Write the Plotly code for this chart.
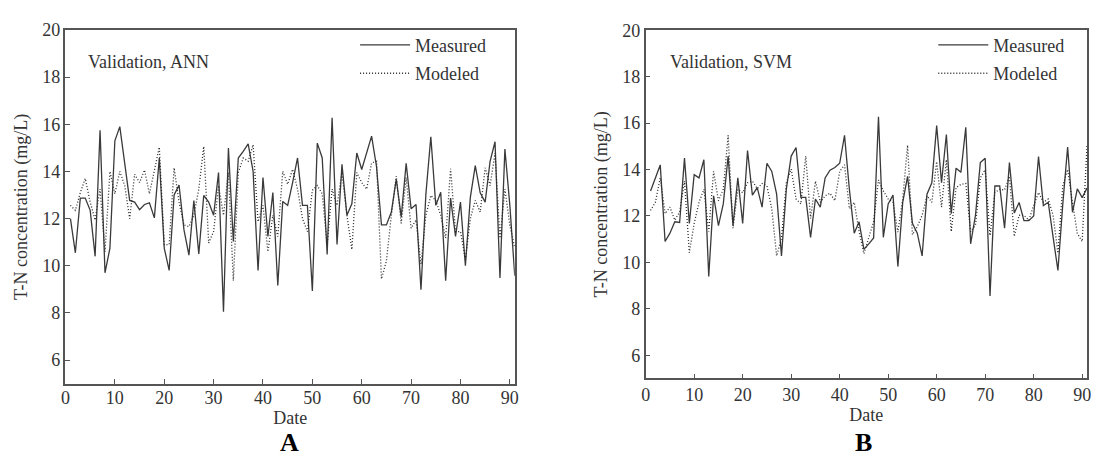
import plotly.graph_objects as go

days = list(range(1, 92))

ann_measured = [12.0, 10.55, 12.87, 12.87, 12.35, 10.4, 15.75, 9.7, 10.75, 15.3,
                15.9, 14.3, 12.77, 12.7, 12.38, 12.6, 12.67, 12.03, 14.57, 10.75,
                9.8, 13.0, 13.42, 11.52, 10.45, 12.77, 10.5, 12.98, 12.7, 12.14,
                13.95, 8.05, 14.99, 11.03, 14.57, 14.85, 15.17, 14.0, 9.8, 13.74,
                11.24, 13.1, 9.16, 12.73, 12.56, 13.53, 14.57, 12.56, 12.56, 8.93,
                15.2, 14.57, 10.48, 16.28, 10.9, 14.3, 12.14, 12.63, 14.78, 14.08,
                14.78, 15.5, 14.2, 11.73, 11.73, 12.28, 13.67, 12.07, 14.34, 12.42,
                12.6, 8.98, 13.05, 15.47, 12.56, 13.12, 9.37, 12.87, 11.24, 12.7,
                10.0, 12.9, 14.25, 13.09, 12.7, 14.43, 15.26, 9.48, 14.95, 12.56,
                9.58]

ann_modeled = [12.56, 12.35, 13.1, 13.7, 12.7, 11.94, 13.25, 10.6, 14.0, 13.05,
               14.0, 13.4, 12.0, 13.88, 13.53, 14.06, 13.05, 14.0, 15.03, 10.9,
               10.9, 14.15, 12.7, 11.73, 11.66, 12.14, 13.25, 15.06, 10.97, 11.45,
               13.4, 12.14, 13.95, 9.37, 13.95, 14.57, 14.43, 15.13, 11.87, 12.56,
               10.6, 12.14, 11.24, 14.0, 13.46, 14.09, 13.25, 12.0, 11.45, 13.2,
               13.4, 13.05, 10.9, 13.25, 12.56, 13.95, 12.14, 10.69, 13.95, 13.53,
               13.25, 14.36, 14.43, 9.44, 10.2, 12.14, 13.8, 11.8, 13.74, 11.59,
               11.94, 10.06, 12.14, 12.98, 12.77, 12.14, 11.17, 14.11, 11.45, 11.45,
               10.27, 12.0, 12.77, 12.28, 14.15, 13.4, 14.78, 11.17, 13.25, 11.73,
               10.75]

svm_measured = [13.08, 13.64, 14.2, 10.9, 11.26, 11.75, 11.72, 14.49, 11.68, 13.78,
                13.64, 14.42, 9.39, 12.87, 11.58, 12.52, 14.58, 11.6, 13.64, 11.68,
                14.82, 12.9, 13.22, 12.38, 14.27, 13.92, 12.94, 10.28, 13.15, 14.58,
                14.95, 12.8, 12.8, 11.08, 12.73, 12.38, 13.64, 13.97, 14.09, 14.27,
                15.47, 13.15, 11.26, 11.75, 10.56, 10.8, 11.05, 16.27, 11.08, 12.52,
                12.9, 9.82, 12.59, 13.71, 11.68, 11.26, 10.28, 12.94, 13.43, 15.89,
                13.43, 15.51, 12.1, 14.06, 13.88, 15.82, 10.8, 12.03, 14.3, 14.49,
                8.55, 13.29, 13.29, 11.47, 14.3, 12.13, 12.58, 11.8, 11.8, 12.0,
                14.56, 12.45, 12.59, 11.1, 9.65, 12.5, 14.97, 12.16, 13.17, 12.79,
                13.2]

svm_modeled = [12.24, 12.59, 13.64, 12.1, 12.38, 11.82, 12.17, 13.5, 10.42, 11.68,
               12.59, 13.15, 11.33, 13.92, 12.66, 13.15, 15.47, 11.47, 13.15, 13.0,
               13.43, 13.5, 13.18, 13.4, 13.29, 12.31, 10.28, 11.05, 13.43, 14.02,
               12.73, 12.52, 14.58, 11.89, 13.5, 12.59, 12.87, 12.98, 12.66, 13.92,
               14.2, 12.31, 12.59, 11.33, 10.38, 11.05, 11.75, 13.55, 13.08, 12.73,
               12.59, 11.3, 12.73, 15.05, 11.19, 11.54, 12.03, 12.87, 12.59, 14.34,
               12.38, 14.42, 11.33, 13.22, 13.36, 13.4, 11.33, 11.61, 13.64, 13.99,
               11.16, 13.01, 13.15, 13.12, 13.71, 11.12, 12.03, 12.03, 11.82, 12.45,
               13.01, 12.59, 12.73, 12.03, 10.4, 13.29, 14.0, 12.58, 11.25, 10.9,
               15.05]

x_ticks = [0, 10, 20, 30, 40, 50, 60, 70, 80, 90]
y_ticks = [6, 8, 10, 12, 14, 16, 18, 20]
panel_titles = ["Validation, ANN", "Validation, SVM"]
panel_letters = ["A", "B"]
series_names = ["Measured", "Modeled"]

W, H = 1094, 458
FONT = "Liberation Serif"
FS = 18
AX = "#555555"
TXT = "#333333"

fig = go.Figure()

solid = dict(color="#3a3a3a", width=1.3)
dotted = dict(color="#2a2a2a", width=1.3, dash="1px,2px")

fig.add_trace(go.Scatter(x=days, y=ann_measured, mode="lines", line=solid,
                         name=series_names[0], xaxis="x", yaxis="y",
                         legend="legend", legendgroup="a1"))
fig.add_trace(go.Scatter(x=days, y=ann_modeled, mode="lines", line=dotted,
                         name=series_names[1], xaxis="x", yaxis="y",
                         legend="legend", legendgroup="a2"))
fig.add_trace(go.Scatter(x=days, y=svm_measured, mode="lines", line=solid,
                         name=series_names[0], xaxis="x2", yaxis="y2",
                         legend="legend2", legendgroup="b1"))
fig.add_trace(go.Scatter(x=days, y=svm_modeled, mode="lines", line=dotted,
                         name=series_names[1], xaxis="x2", yaxis="y2",
                         legend="legend2", legendgroup="b2"))

def xax(domain, anchor, standoff, label_standoff):
    return dict(domain=domain, anchor=anchor, range=[0, 91], tickvals=x_ticks,
                ticks="inside", ticklen=5, tickwidth=1.2, tickcolor=AX,
                ticklabelstandoff=label_standoff,
                showline=True, linecolor=AX, linewidth=1.5, mirror=True,
                showgrid=False, zeroline=False,
                tickfont=dict(family=FONT, size=FS, color=TXT),
                title=dict(text="Date", font=dict(family=FONT, size=FS, color=TXT),
                           standoff=standoff))

def yax(domain, anchor):
    return dict(domain=domain, anchor=anchor, range=[5, 20], tickvals=y_ticks,
                ticks="inside", ticklen=5, tickwidth=1.2, tickcolor=AX,
                showline=True, linecolor=AX, linewidth=1.5, mirror=True,
                showgrid=False, zeroline=False,
                tickfont=dict(family=FONT, size=FS, color=TXT),
                title=dict(text="T-N concentration (mg/L)",
                           font=dict(family=FONT, size=FS, color=TXT), standoff=10))

xa = xax([61 / W, 514 / W], "y", 0, -3)
ya = yax([1 - 382 / H, 1 - 20.4 / H], "x")
xb = xax([646 / W, 1091 / W], "y2", 1, -1)
yb = yax([1 - 376.7 / H, 1 - 20.7 / H], "x2")

legend_common = dict(font=dict(family=FONT, size=FS, color=TXT), bgcolor="rgba(0,0,0,0)",
                     borderwidth=0, traceorder="grouped", tracegroupgap=2,
                     xanchor="left", yanchor="top", itemwidth=50)

fig.update_layout(
    width=W, height=H,
    margin=dict(l=0, r=0, t=0, b=0),
    paper_bgcolor="white", plot_bgcolor="white",
    showlegend=True,
    xaxis=xa, yaxis=ya, xaxis2=xb, yaxis2=yb,
    legend=dict(x=353 / W, y=1 - 17 / H, **legend_common),
    legend2=dict(x=936 / W, y=1 - 17 / H, **legend_common),
    annotations=[
        dict(text=panel_titles[0], x=82 / W, y=1 - 53 / H, xref="paper", yref="paper",
             xanchor="left", yanchor="middle", showarrow=False,
             font=dict(family=FONT, size=FS, color=TXT)),
        dict(text=panel_titles[1], x=669 / W, y=1 - 53 / H, xref="paper", yref="paper",
             xanchor="left", yanchor="middle", showarrow=False,
             font=dict(family=FONT, size=FS, color=TXT)),
        dict(text="<b>" + panel_letters[0] + "</b>", x=287 / W, y=0,
             xref="paper", yref="paper", xanchor="center", yanchor="bottom",
             showarrow=False, borderpad=0, font=dict(family=FONT, size=26, color="#000000")),
        dict(text="<b>" + panel_letters[1] + "</b>", x=866 / W, y=0,
             xref="paper", yref="paper", xanchor="center", yanchor="bottom",
             showarrow=False, borderpad=0, font=dict(family=FONT, size=26, color="#000000")),
    ],
)

fig.write_html("out.html")
